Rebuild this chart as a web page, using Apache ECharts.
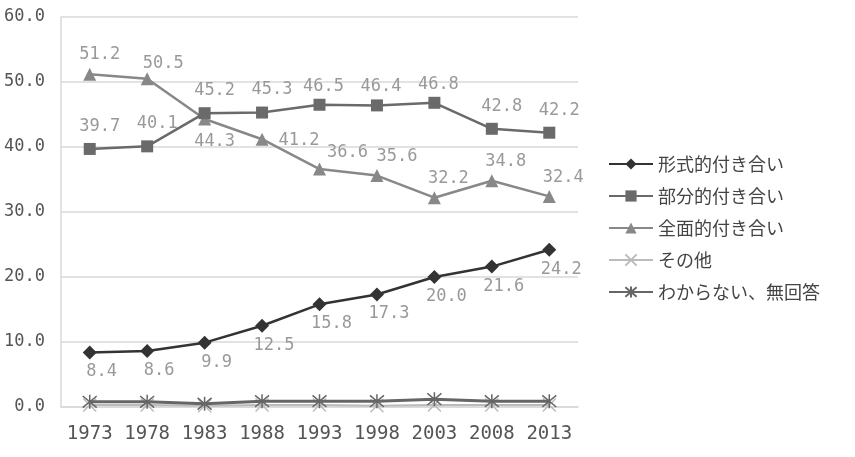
<!DOCTYPE html>
<html>
<head>
<meta charset="utf-8">
<script src="https://cdn.jsdelivr.net/npm/echarts@6/dist/echarts.min.js"></script>
<style>
  html, body { margin: 0; padding: 0; background: #fff; }
  #chart { width: 855px; height: 457px; }
</style>
</head>
<body>
<div id="chart"></div>
<script>
// 調査年
const years = ['1973', '1978', '1983', '1988', '1993', '1998', '2003', '2008', '2013'];
// 各系列の値 (%)
const keishiki = [8.4, 8.6, 9.9, 12.5, 15.8, 17.3, 20.0, 21.6, 24.2];
const bubun = [39.7, 40.1, 45.2, 45.3, 46.5, 46.4, 46.8, 42.8, 42.2];
const zenmen = [51.2, 50.5, 44.3, 41.2, 36.6, 35.6, 32.2, 34.8, 32.4];
const sonota = [0.3, 0.3, 0.2, 0.3, 0.3, 0.2, 0.3, 0.3, 0.3];
const wakaranai = [0.8, 0.8, 0.5, 0.9, 0.9, 0.9, 1.2, 0.9, 0.9];
const names = ['形式的付き合い', '部分的付き合い', '全面的付き合い', 'その他', 'わからない、無回答'];
// y軸
const yMin = 0, yMax = 60, yStep = 10;

const mono = 'DejaVu Sans Mono';
const labelBase = {
  show: true,
  fontFamily: mono,
  fontSize: 17,
  color: '#999',
  formatter: (p) => p.value.toFixed(1),
};

// ラベル位置の個別指定
function withLabels(values, pos, offset, special) {
  return values.map((v, i) => {
    const s = special[i];
    return {
      value: v,
      label: s ? { position: s.position, offset: s.offset } : { position: pos, offset: offset },
    };
  });
}

const xPath = 'path://M0,0 L10,10 M10,0 L0,10';
const starPath = 'path://M0,0 L10,10 M10,0 L0,10 M5,-1 L5,11';

let myChart = echarts.init(document.getElementById('chart'));

myChart.setOption({
  animation: false,
  grid: {
    left: 61,
    right: 277,
    top: 17,
    bottom: 50,
  },
  legend: {
    orient: 'vertical',
    left: 603,
    top: 150,
    itemWidth: 44,
    itemHeight: 14,
    itemGap: 14,
    textStyle: {
      fontFamily: 'Noto Sans CJK JP',
      fontSize: 18,
      color: '#444',
    },
    data: names,
  },
  xAxis: {
    type: 'category',
    data: years,
    boundaryGap: true,
    axisLine: { lineStyle: { color: '#d9d9d9', width: 1.5 } },
    axisTick: { show: false },
    axisLabel: {
      interval: 0,
      fontFamily: mono,
      fontSize: 19,
      color: '#555',
      margin: 18,
    },
  },
  yAxis: {
    type: 'value',
    min: yMin,
    max: yMax,
    interval: yStep,
    axisLine: { show: true, lineStyle: { color: '#d9d9d9', width: 1.5 } },
    axisTick: { show: false },
    splitLine: { lineStyle: { color: '#d9d9d9', width: 1.5 } },
    axisLabel: {
      fontFamily: mono,
      fontSize: 17,
      color: '#555',
      margin: 16,
      formatter: (v) => v.toFixed(1),
    },
  },
  series: [
    {
      name: names[4],
      type: 'line',
      data: wakaranai,
      symbol: starPath,
      symbolSize: 14,
      lineStyle: { color: '#666', width: 3 },
      itemStyle: { color: '#666', borderColor: '#666', borderWidth: 1.5 },
      z: 2,
    },
    {
      name: names[3],
      type: 'line',
      data: sonota,
      symbol: xPath,
      symbolSize: 13,
      lineStyle: { color: '#bbb', width: 2 },
      itemStyle: { color: '#bbb', borderColor: '#bbb', borderWidth: 1.5 },
      z: 1,
    },
    {
      name: names[2],
      type: 'line',
      data: withLabels(zenmen, 'top', [14, 1], {
        0: { position: 'top', offset: [10, 0] },
        1: { position: 'top', offset: [16, 5] },
        2: { position: 'bottom', offset: [10, 3] },
        3: { position: 'right', offset: [5, 1] },
        4: { position: 'top', offset: [28, 3] },
        5: { position: 'top', offset: [20, 1] },
      }),
      symbol: 'triangle',
      symbolSize: 13,
      lineStyle: { color: '#888', width: 2.5 },
      itemStyle: { color: '#888' },
      label: labelBase,
      z: 3,
    },
    {
      name: names[1],
      type: 'line',
      data: withLabels(bubun, 'top', [10, -3], {
        4: { position: 'top', offset: [4, 1] },
        5: { position: 'top', offset: [4, 1] },
        6: { position: 'top', offset: [4, 1] },
      }),
      symbol: 'rect',
      symbolSize: 12,
      lineStyle: { color: '#6a6a6a', width: 2.5 },
      itemStyle: { color: '#6a6a6a' },
      label: labelBase,
      z: 4,
    },
    {
      name: names[0],
      type: 'line',
      data: withLabels(keishiki, 'bottom', [12, -1], {}),
      symbol: 'diamond',
      symbolSize: 14,
      lineStyle: { color: '#333', width: 2.5 },
      itemStyle: { color: '#333' },
      label: labelBase,
      z: 5,
    },
  ],
});
</script>
</body>
</html>
